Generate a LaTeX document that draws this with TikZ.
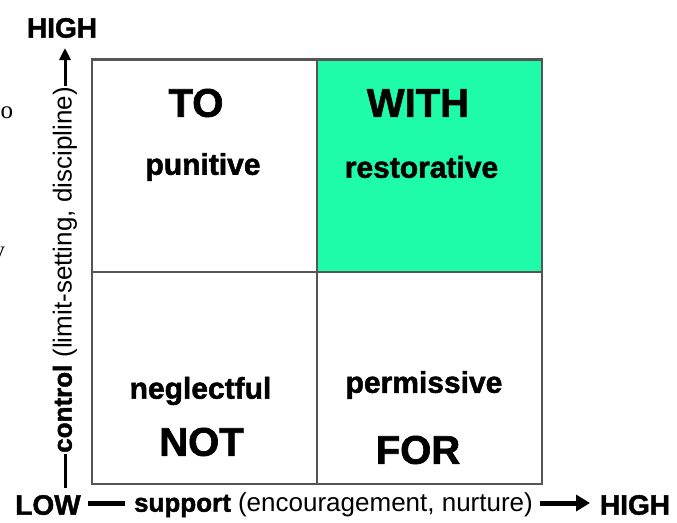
\documentclass[tikz,border=0pt]{standalone}
\usepackage{fontspec}
\setmainfont{Liberation Sans}
\newfontface\heavyface{Liberation Sans Bold}[FakeBold=1.6]
\newfontfamily\serifface{Liberation Serif}
\usetikzlibrary{arrows.meta}
\definecolor{quadgreen}{RGB}{30,252,170}
\definecolor{gridgray}{RGB}{85,85,85}
\tikzset{
  quad/.style={draw=gridgray, line width=1.5pt, minimum width=225pt, minimum height=212pt, inner sep=0pt, anchor=north west},
  big/.style={font=\heavyface\fontsize{40}{44}\selectfont, inner sep=0pt},
  small/.style={font=\heavyface\fontsize{30}{34}\selectfont, inner sep=0pt},
  axislab/.style={font=\fontsize{26}{30}\selectfont, inner sep=1pt},
  endlab/.style={font=\heavyface\fontsize{28}{32}\selectfont, inner sep=0pt},
  stray/.style={font=\serifface\fontsize{25}{28}\selectfont, inner sep=0pt}
}
\begin{document}
\begin{tikzpicture}[x=1pt,y=-1pt]
\useasboundingbox (0,0) rectangle (677,522);
\begin{scope}
\clip (0,0) rectangle (677,522);
% quadrants
\node[quad] (tl) at (91.5,59) {};
\node[quad, fill=quadgreen] (tr) at (316,59) {};
\node[quad] (bl) at (91.5,271) {};
\node[quad] (br) at (316,271) {};
\draw[gridgray, line width=1.5pt] (tl.north west) rectangle (br.south east);
% quadrant texts
\node[big] (to) at (196,103) {TO};
\node[small] (pun) at (203,167) {punitive};
\node[big] (with) at (418,103) {WITH};
\node[small] (res) at (421.5,167) {restorative};
\node[small] (neg) at (200.5,391) {neglectful};
\node[big] (not) at (201.5,442) {NOT};
\node[small] (perm) at (424,385) {permissive};
\node[big] (for) at (418,450) {FOR};
% vertical axis
\node[endlab] (hightop) at (62,28) {HIGH};
\node[axislab, rotate=90] (ctrl) at (65,270) {{\heavyface control} (limit-setting, discipline)};
\coordinate (vbot) at (65,488);
\coordinate (vtop) at (65,48);
\draw[line width=3pt] (vbot) -- (ctrl.west);
\draw[line width=3pt, -{Triangle[length=12pt,width=11pt]}] (ctrl.east) -- (vtop);
% horizontal axis
\node[endlab] (low) at (48,505) {LOW};
\node[axislab] (sup) at (333.5,505) {{\heavyface support} (encouragement, nurture)};
\node[endlab] (highr) at (635,505) {HIGH};
\coordinate (d1) at (88,503);
\coordinate (d2) at (125,503);
\draw[line width=5pt] (d1) -- (d2);
\coordinate (a1) at (540,503);
\coordinate (a2) at (590,503);
\draw[line width=5pt, -{Triangle[length=14pt,width=16pt]}] (a1) -- (a2);
% stray fragments at the left edge
\node[stray] (so) at (7,113) {o};
\node[stray] (sy) at (-1,255) {y};
\end{scope}
\end{tikzpicture}
\end{document}
